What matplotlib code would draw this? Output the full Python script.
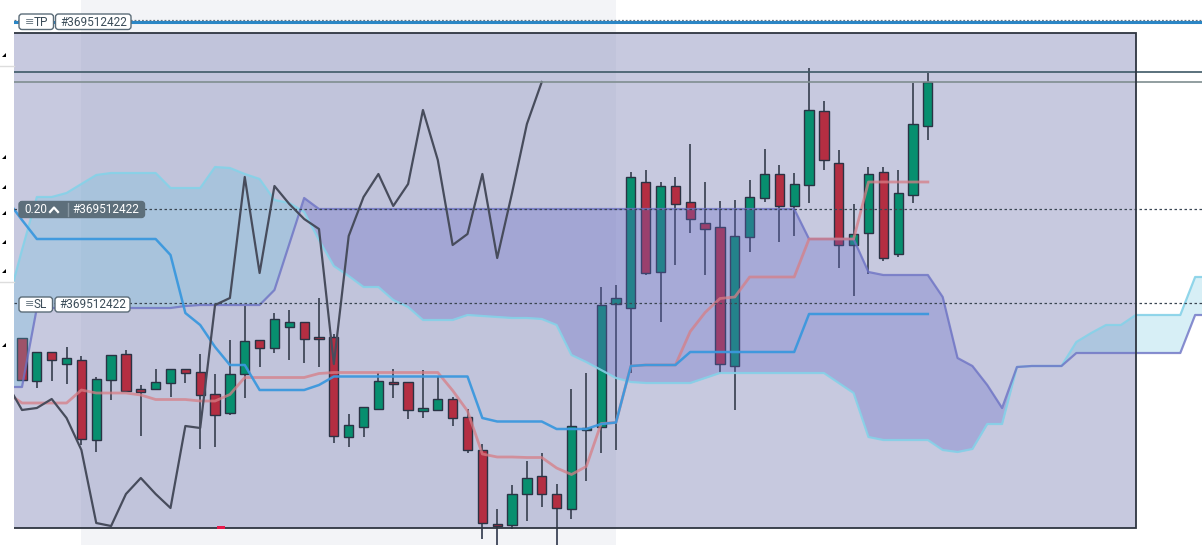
import numpy as np
import matplotlib
matplotlib.use("Agg")
import matplotlib.pyplot as plt
from matplotlib.patches import Rectangle, FancyBboxPatch, Polygon
from matplotlib.lines import Line2D

W, H = 1202, 545

# ---------------- data (price units, one value per bar) ----------------
opens = [207, 164, 193, 181, 185, 105, 165, 191, 156, 156,
         162, 176, 173, 151, 132, 171, 205, 197, 218, 223,
         208, 208, 108, 118, 136, 163, 163, 134, 135, 146,
         128, 95, 21, 20, 51, 69, 51, 36, 115, 118,
         241, 237, 363, 273, 359, 343, 322, 318, 179, 308,
         347, 371, 339, 360, 434, 382, 300, 312, 373, 291,
         350, 419]
highs = [207, 193, 193, 198, 189, 168, 190, 195, 160, 176,
         176, 176, 191, 171, 205, 239, 205, 232, 235, 223,
         247, 211, 131, 138, 172, 176, 163, 175, 169, 148,
         136, 101, 36, 60, 84, 92, 61, 156, 172, 258,
         260, 373, 375, 363, 368, 401, 363, 344, 345, 365,
         396, 380, 372, 477, 444, 395, 341, 378, 378, 375,
         462, 472]
lows = [165, 157, 164, 161, 100, 93, 145, 154, 109, 156,
        148, 162, 96, 98, 130, 147, 178, 192, 185, 182,
        178, 102, 98, 108, 136, 147, 126, 127, 135, 119,
        92, 6, 0, 16, 24, 38, -15, 26, 64, 92,
        95, 172, 270, 223, 280, 312, 270, 172, 135, 293,
        343, 303, 309, 342, 375, 277, 249, 271, 284, 288,
        342, 405]
closes = [165, 193, 185, 187, 106, 166, 190, 154, 153, 163,
          176, 172, 150, 130, 171, 204, 197, 226, 223, 206,
          206, 109, 120, 138, 164, 161, 135, 137, 146, 127,
          95, 22, 19, 51, 67, 51, 37, 119, 117, 240,
          247, 368, 272, 359, 341, 326, 316, 181, 309, 348,
          371, 339, 361, 435, 385, 300, 311, 371, 287, 352,
          421, 463]

# indicator lines (first value belongs to bar index -1)
tenkan = [152, 142, 142, 142, 142, 155, 152, 152, 152, 150,
          145.5, 145.5, 145.5, 144, 144, 150.5, 167.5, 167.5, 167.5, 167.5,
          167.5, 171.5, 172.5, 172.5, 172.5, 172.5, 172.5, 172.5, 172.5, 172.5,
          154.5, 134, 91, 88, 88, 87.5, 87.5, 77, 70.5, 78.5,
          121.5, 122.5, 179, 180, 180, 180, 213.5, 232.5, 246.5, 248,
          268, 268, 268, 268, 306, 306, 306, 306, 363, 363,
          363, 363, 363]
kijun = [345, 325, 306, 306, 306, 306, 306, 306, 306, 306,
         306, 290, 232, 220, 198, 180, 180, 155, 155, 155,
         155, 160, 168.5, 168.5, 168.5, 168.5, 168.5, 168.5, 168.5, 168.5,
         168.5, 168.5, 127, 123.5, 123.5, 123.5, 123.5, 116, 116, 116,
         121, 122.5, 179, 180, 180, 180, 193, 193, 193, 193,
         193, 193, 193, 193, 231, 231, 231, 231, 231, 231,
         231, 231, 231]
chikou = [161, 135, 137, 146, 127, 95, 22, 19, 51, 67,
          51, 37, 119, 117, 240, 247, 368, 272, 359, 341,
          326, 316, 181, 309, 348, 371, 339, 361, 435, 385,
          300, 311, 371, 287, 352, 421, 463]
senkou_a = [240, 295, 348, 348, 352, 361, 370, 372, 372, 372,
            372, 357, 357, 357, 378, 377, 371, 366, 345, 342,
            333, 305, 279, 269, 258, 258, 245, 238, 225, 225,
            225, 230, 229, 228, 227, 227, 226, 220, 190, 183,
            175, 167, 163, 162, 162, 162, 162, 167, 172, 172,
            172, 172, 172, 172, 172, 172, 162, 152, 108, 105,
            105, 105, 105, 95, 93, 96, 121, 121, 178, 179,
            179, 179, 203, 212, 220, 220, 230, 230, 230, 230,
            268, 268]
senkou_b = [158, 158, 237, 237, 237, 237, 237, 237, 237, 237,
            237, 237, 239, 240, 240, 240, 240, 240, 255, 301,
            347, 336, 336, 336, 336, 336, 336, 336, 336, 336,
            336, 336, 336, 336, 336, 336, 336, 336, 336, 336,
            336, 336, 336, 336, 336, 336, 336, 336, 336, 336,
            336, 336, 336, 336, 306, 306, 306, 306, 273, 270,
            270, 270, 270, 248, 187, 179, 160, 137, 178, 179,
            179, 179, 192, 192, 192, 192, 192, 192, 192, 192,
            230, 230]

# levels / zones
tp_level = 523
entry_level = 336
sl_level = 242
hline_upper = 472.7
hline_lower = 462.7
zone_x_end = 75
zone_low, zone_high = 17, 512
highlight_start, highlight_end = 4, 40
marker_bar, marker_price = 13.4, 17.5
order_id = "#369512422"

# ---------------- figure ----------------
fig = plt.figure(figsize=(W / 100, H / 100), dpi=100)
fig.patch.set_facecolor("white")
ax = fig.add_axes([14 / W, 0, 1 - 14 / W, 1])
ax.set_facecolor("none")
ax.set_xlim((14 - 22) / 14.85, (1202 - 22) / 14.85)
ax.set_ylim(0, 545)
ax.axis("off")

n = len(closes)
xc = np.arange(n)
xi = np.arange(-1, n)
xk = np.arange(-1, -1 + len(chikou))
xs = np.arange(-1, -1 + len(senkou_a))

# highlight band
ax.axvspan(highlight_start, highlight_end, ymin=-1, ymax=2, color="#f3f4f7", zorder=0, lw=0)

# zone rectangle fill
ax.add_patch(Rectangle((-5, zone_low), zone_x_end + 5, zone_high - zone_low,
                       facecolor="#9195c0", alpha=0.5, lw=0, zorder=1))

# candles
o = np.array(opens); c = np.array(closes); hi = np.array(highs); lo = np.array(lows)
up = c >= o
ax.vlines(xc, lo, hi, color="#4a5162", lw=1.4, zorder=3)
ax.bar(xc[up], (c - o)[up], bottom=o[up], width=0.62, color="#078f6f",
       edgecolor="#2a3344", lw=1.0, zorder=3.5)
ax.bar(xc[~up], (o - c)[~up], bottom=c[~up], width=0.62, color="#b42e42",
       edgecolor="#2a3344", lw=1.0, zorder=3.5)

# cloud
sa = np.array(senkou_a, float); sb = np.array(senkou_b, float)
ax.fill_between(xs, sa, sb, where=sa >= sb, interpolate=True,
                color="#60c1df", alpha=0.25, lw=0, zorder=4)
ax.fill_between(xs, sa, sb, where=sa < sb, interpolate=True,
                color="#6469c8", alpha=0.32, lw=0, zorder=4)
ax.plot(xs, sa, color="#86d2e8", lw=1.6, alpha=0.9, zorder=5)
ax.plot(xs, sb, color="#6c72c4", lw=1.6, alpha=0.8, zorder=5)

# lines
ax.plot(xi, tenkan, color="#d77e86", lw=2.0, alpha=0.75, zorder=6)
ax.plot(xi, kijun, color="#3b98de", lw=1.8, alpha=0.95, zorder=6)
ax.plot(xk, chikou, color="#474c5c", lw=1.6, zorder=6.5)

# zone border
ax.add_patch(Rectangle((-5, zone_low), zone_x_end + 5, zone_high - zone_low,
                       fill=False, edgecolor="#2e3540", lw=1.3, zorder=8))

# horizontal levels
ax.axhline(hline_upper, color="#3e5966", lw=1.2, zorder=7)
ax.axhline(hline_lower, color="#7f8e90", lw=1.2, zorder=7)
ax.axhline(entry_level, color="#3a4652", lw=0.9, ls=(0, (2, 2)), zorder=7)
ax.axhline(sl_level, color="#3a4652", lw=0.9, ls=(0, (2, 2)), zorder=7)
ax.axhline(tp_level + 2.3, color="#6a7580", lw=0.9, ls=(0, (1.5, 1.5)), zorder=7)
ax.axhline(tp_level, color="#2b86c5", lw=2.2, zorder=7.5)

# small trade marker
ax.add_patch(Rectangle((marker_bar - 0.27, marker_price - 1.5), 0.54, 3,
                       facecolor="#e8184a", lw=0, zorder=9))

# ---------------- overlay labels (pixel coordinates) ----------------
T = fig.dpi_scale_trans


def P(x, y):
    return (x / 100.0, (H - y) / 100.0)


def box(x0, y0, x1, y1, fc, ec):
    p = FancyBboxPatch(P(x0, y1), (x1 - x0) / 100.0, (y1 - y0) / 100.0,
                       boxstyle="round,pad=0,rounding_size=0.03",
                       transform=T, facecolor=fc, edgecolor=ec, lw=1.0, zorder=20)
    fig.add_artist(p)


def txt(x, y, s, color, size=8.5, ha="left"):
    fig.text(*P(x, y), s, transform=T, color=color, fontsize=size, ha=ha, va="center",
             family=["Roboto", "DejaVu Sans"], zorder=21)


# TP label
box(19, 14, 53.5, 29.5, "white", "#5b6c78")
box(55.5, 14, 131, 29.5, "white", "#5b6c78")
txt(25, 22, "≡", "#6d7b85", 8)
txt(34, 22, "TP", "#3b4c58")
txt(60, 22, order_id, "#3b4c58")

# entry label
box(19, 201.5, 144.5, 217.5, "#5d6f7b", "#5d6f7b")
txt(24, 209.5, "0.20", "white")
fig.add_artist(Line2D([P(50, 212)[0], P(54, 207.5)[0], P(58, 212)[0]],
                      [P(50, 212)[1], P(54, 207.5)[1], P(58, 212)[1]],
                      transform=T, color="white", lw=1.6, zorder=21))
fig.add_artist(Line2D([P(67.5, 203)[0], P(67.5, 216)[0]], [P(67.5, 203)[1], P(67.5, 216)[1]],
                      transform=T, color="#8797a2", lw=1.0, zorder=21))
txt(72.5, 209.5, order_id, "white")

# SL label
box(19, 297, 52.5, 312, "white", "#5b6c78")
box(55, 297, 130, 312, "white", "#5b6c78")
txt(25, 304.5, "≡", "#6d7b85", 8)
txt(34, 304.5, "SL", "#3b4c58")
txt(59, 304.5, order_id, "#3b4c58")

# left edge tick markers
for ty in [55, 157, 187, 213, 242, 271, 345]:
    fig.add_artist(Polygon([P(2, ty + 2), P(6, ty + 2), P(6, ty - 2)], closed=True,
                           transform=T, facecolor="black", edgecolor="none", zorder=21))
for gy in [66, 282]:
    fig.add_artist(Line2D([P(0, gy)[0], P(14, gy)[0]], [P(0, gy)[1], P(14, gy)[1]],
                          transform=T, color="#dddddd", lw=1, zorder=21))

fig.savefig("out.png", dpi=100, facecolor="white")
